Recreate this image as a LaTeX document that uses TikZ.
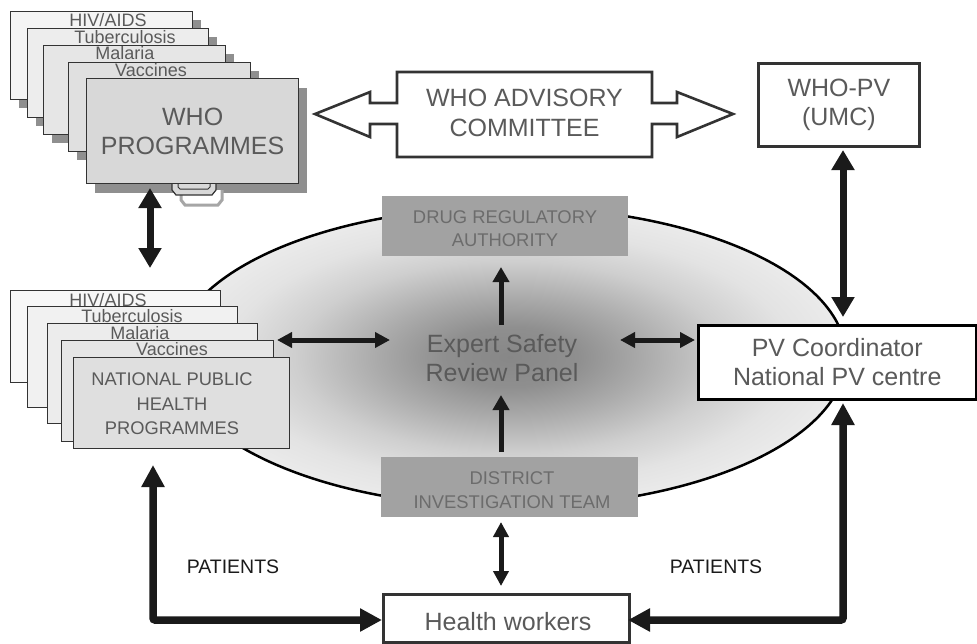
\documentclass[tikz,border=0pt]{standalone}
\usepackage{fontspec}
\setmainfont{Liberation Sans}
\usetikzlibrary{arrows.meta,shapes.geometric,calc}
\definecolor{txt}{HTML}{5A5A5A}
\definecolor{bord}{HTML}{333333}
\definecolor{shd}{HTML}{8F8F8F}
\definecolor{dra}{HTML}{A2A2A2}
\definecolor{dratxt}{HTML}{6C6C6C}
\definecolor{wa}{HTML}{F4F4F4}
\definecolor{wb}{HTML}{EDEDED}
\definecolor{wc}{HTML}{E6E6E6}
\definecolor{wd}{HTML}{E0E0E0}
\definecolor{we}{HTML}{D8D8D8}
\definecolor{na}{HTML}{F7F7F7}
\definecolor{nb}{HTML}{F1F1F1}
\definecolor{nc}{HTML}{ECECEC}
\definecolor{nd}{HTML}{E6E6E6}
\definecolor{ne}{HTML}{DFDFDF}
\definecolor{arr}{HTML}{1A1A1A}
\pgfdeclareradialshading{espanel}{\pgfpointorigin}{color(0bp)=(black!47); color(5bp)=(black!44); color(10bp)=(black!33); color(16bp)=(black!19); color(21bp)=(black!11); color(25bp)=(black!8); color(50bp)=(black!8)}
\tikzset{
  card/.style={draw=bord, line width=1.3pt, anchor=north west, inner sep=0pt},
  cardshadow/.style={fill=shd, anchor=north west, inner sep=0pt},
  cardlbl/.style={text=txt, font=\fontsize{18}{20}\selectfont, anchor=base, inner sep=0pt},
  bigtxt/.style={text=txt, font=\fontsize{25}{29.5}\selectfont, align=center},
  midtxt/.style={text=txt, font=\fontsize{18.3}{24.5}\selectfont, align=center},
  wbox/.style={draw=bord, line width=2.8pt, fill=white, anchor=north west, inner sep=0pt},
  gbox/.style={fill=dra, anchor=north west, inner sep=0pt},
  gtxt/.style={text=dratxt, font=\fontsize{18.4}{23.5}\selectfont, align=center},
  ptxt/.style={text=arr, font=\fontsize{19.5}{21}\selectfont},
  bigarr/.style={line width=7pt, draw=arr, {Triangle[length=20pt,width=22pt]}-{Triangle[length=20pt,width=22pt]}},
  medboth/.style={line width=5pt, draw=arr, {Triangle[length=15pt,width=15pt]}-{Triangle[length=15pt,width=15pt]}},
  medone/.style={line width=5pt, draw=arr, -{Triangle[length=15pt,width=16pt]}},
  patarr/.style={line width=7.5pt, draw=arr, rounded corners=2pt, {Triangle[length=22pt,width=22pt]}-{Triangle[length=22pt,width=22pt]}}
}
\begin{document}
\begin{tikzpicture}[x=1pt,y=-1pt]
\useasboundingbox (0,0) rectangle (977,643);
% central panel
\node[ellipse, draw=black, line width=2.5pt, shading=espanel, minimum width=672pt, minimum height=300pt, inner sep=0pt] (panel) at (510,357) {};
\node[bigtxt] (expert) at (502,358) {Expert Safety\\Review Panel};
% WHO programmes stack
\node[cardshadow, minimum width=182pt, minimum height=88pt] (w1s) at (19,20) {};
\node[card, fill=wa, minimum width=182pt, minimum height=88pt] (w1) at (10,11) {};
\node[cardlbl] (w1t) at (108,26.5) {HIV/AIDS};
\node[cardshadow, minimum width=181pt, minimum height=89pt] (w2s) at (36,37) {};
\node[card, fill=wb, minimum width=181pt, minimum height=89pt] (w2) at (27,28) {};
\node[cardlbl] (w2t) at (125,43.2) {Tuberculosis};
\node[cardshadow, minimum width=182pt, minimum height=89pt] (w3s) at (52,54) {};
\node[card, fill=wc, minimum width=182pt, minimum height=89pt] (w3) at (43,45) {};
\node[cardlbl] (w3t) at (125,59.8) {Malaria};
\node[cardshadow, minimum width=182pt, minimum height=89pt] (w4s) at (77,71) {};
\node[card, fill=wd, minimum width=182pt, minimum height=89pt] (w4) at (68,62) {};
\node[cardlbl] (w4t) at (151,76.5) {Vaccines};
\node[cardshadow, minimum width=212pt, minimum height=105pt] (w5s) at (95,88) {};
% paper clip
\draw[draw=black!35, line width=3pt, fill=white] (181,190) -- (181,200) -- (185,205) -- (218,205) -- (222,200) -- (222,190);
\draw[draw=bord, line width=1.2pt, fill=we] (172,182) -- (172,190) -- (176,195) -- (212,195) -- (216,190) -- (216,182) -- cycle;
\draw[draw=bord, line width=1pt] (178,183) -- (178,187) -- (180,189) -- (208,189) -- (210,187) -- (210,183);
\node[card, fill=we, minimum width=212pt, minimum height=105pt, bigtxt] (w5) at (86,78) {WHO\\PROGRAMMES};
% national programmes stack
\node[card, fill=na, minimum width=210pt, minimum height=92pt] (n1) at (10,290) {};
\node[cardlbl] (n1t) at (108,306.5) {HIV/AIDS};
\node[card, fill=nb, minimum width=210pt, minimum height=101pt] (n2) at (27,306) {};
\node[cardlbl] (n2t) at (132,322) {Tuberculosis};
\node[card, fill=nc, minimum width=210pt, minimum height=100pt] (n3) at (47,323) {};
\node[cardlbl] (n3t) at (140,339) {Malaria};
\node[card, fill=nd, minimum width=212pt, minimum height=101pt] (n4) at (61,340) {};
\node[cardlbl] (n4t) at (172,355.5) {Vaccines};
\node[card, fill=ne, minimum width=216pt, minimum height=91pt] (n5) at (73,357) {};
\node[midtxt] (n5t) at (172,404) {NATIONAL PUBLIC\\HEALTH\\PROGRAMMES};
% advisory committee
\node[bigtxt] (adv) at (524.5,113) {WHO ADVISORY\\COMMITTEE};
\draw[draw=bord, line width=2.6pt, line join=miter] (315,114) -- (370,92) -- (370,103) -- (397,103) -- (397,72) -- (652,72) -- (652,103) -- (677,103) -- (677,92) -- (733,114) -- (677,137) -- (677,124) -- (652,124) -- (652,157) -- (397,157) -- (397,124) -- (370,124) -- (370,137) -- cycle;
% WHO-PV
\node[wbox, minimum width=161pt, minimum height=83pt, bigtxt] (whopv) at (757,62) {WHO-PV\\(UMC)};
% PV coordinator
\node[wbox, draw=black, line width=2.5pt, minimum width=278pt, minimum height=74pt, bigtxt] (pvc) at (697,324) {PV Coordinator\\National PV centre};
% DRA and district
\node[gbox, minimum width=246pt, minimum height=60pt] (dra) at (382,196) {};
\node[gtxt] (drat) at (505,228.5) {DRUG REGULATORY\\AUTHORITY};
\node[gbox, minimum width=257pt, minimum height=60pt] (dist) at (381,457) {};
\node[gtxt] (distt) at (512,490) {DISTRICT\\INVESTIGATION TEAM};
% health workers
\node[wbox, minimum width=246pt, minimum height=48pt] (hw) at (382,593) {};
\node[bigtxt] (hwt) at (508,622) {Health workers};
% labels
\node[ptxt] (pl) at (233,567) {PATIENTS};
\node[ptxt] (pr) at (716,567) {PATIENTS};
% connector end points
\coordinate (a1) at (150,188);
\coordinate (a2) at (150,268);
\coordinate (b1) at (843,150);
\coordinate (b2) at (843,317);
\coordinate (c1) at (277,340);
\coordinate (c2) at (390,340);
\coordinate (d1) at (620,340);
\coordinate (d2) at (695,340);
\coordinate (e1) at (501,325);
\coordinate (e2) at (501,267);
\coordinate (f1) at (501,452);
\coordinate (f2) at (501,395);
\coordinate (g1) at (501,522);
\coordinate (g2) at (501,586);
\coordinate (h1) at (153,465);
\coordinate (h2) at (382,620);
\coordinate (k1) at (843,403);
\coordinate (k2) at (628,620);
% connectors
\draw[bigarr] (a1) -- (a2);
\draw[bigarr] (b1) -- (b2);
\draw[medboth] (c1) -- (c2);
\draw[medboth] (d1) -- (d2);
\draw[medone] (e1) -- (e2);
\draw[medone] (f1) -- (f2);
\draw[medboth] (g1) -- (g2);
\draw[patarr] (h1) |- (h2);
\draw[patarr] (k1) |- (k2);
\end{tikzpicture}
\end{document}
